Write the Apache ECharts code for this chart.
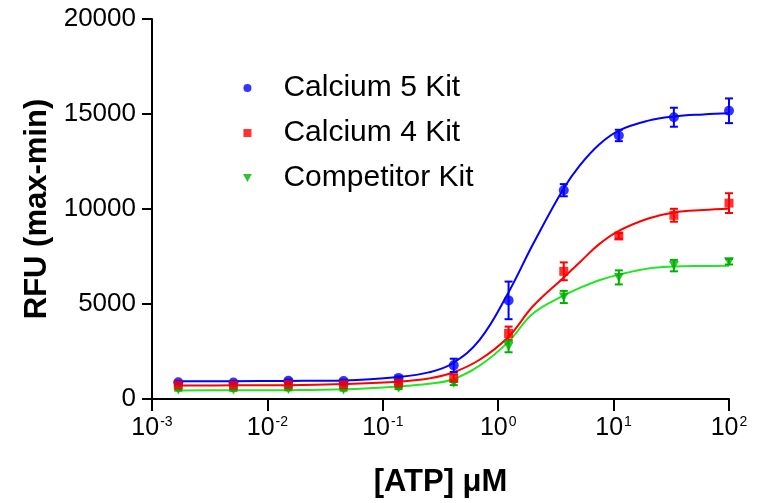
<!DOCTYPE html>
<html>
<head>
<meta charset="utf-8">
<script src="https://cdn.jsdelivr.net/npm/echarts@6/dist/echarts.min.js"></script>
<style>
html,body{margin:0;padding:0;background:#fff;}
#chart{width:764px;height:503px;}
</style>
</head>
<body>
<div id="chart"></div>
<script>
// ---- data ----
const seriesNames = ['Calcium 5 Kit', 'Calcium 4 Kit', 'Competitor Kit'];
const conc = [0.00169, 0.00508, 0.0152, 0.0457, 0.137, 0.412, 1.23, 3.70, 11.1, 33.3, 100];
const cal5 = [880, 870, 960, 950, 1110, 1770, 5190, 10990, 13870, 14830, 15170];
const cal5Err = [60, 60, 70, 60, 80, 350, 990, 320, 300, 500, 650];
const cal4 = [740, 730, 770, 760, 840, 1100, 3450, 6720, 8580, 9670, 10310];
const cal4Err = [50, 50, 60, 50, 60, 200, 360, 470, 150, 340, 520];
const comp = [480, 470, 500, 480, 560, 830, 2760, 5370, 6400, 7020, 7230];
const compErr = [40, 40, 40, 40, 40, 100, 300, 320, 370, 300, 150];

// fitted curves, values
const curveX = [0.0017, 0.005, 0.015, 0.046, 0.137, 0.25, 0.4, 0.69, 1.23, 2.0, 3.7, 5.1, 7.5, 11.1, 20, 33.3, 60, 100];
const cal5Fit = [937, 940, 950, 980, 1160, 1400, 1870, 3110, 5620, 8140, 11090, 12300, 13400, 14130, 14650, 14870, 14980, 15040];
const cal4Fit = [713, 718, 730, 790, 910, 1080, 1380, 2066, 3280, 4880, 6400, 7200, 8150, 8850, 9500, 9820, 9950, 10015];
const compFit = [453, 456, 465, 510, 660, 800, 1024, 1755, 3020, 4495, 5450, 5850, 6250, 6545, 6870, 6970, 7000, 7015];

const xTickExps = ['-3', '-2', '-1', '0', '1', '2'];
const yTicks = [0, 5000, 10000, 15000, 20000];

// ---- styling ----
const FONT = 'Liberation Sans, Arial, Helvetica, sans-serif';
const BLUE = '#0000ff', RED = '#ff0000', GREEN_LINE = '#22e622', GREEN_PT = '#00b000';
const TRI_DOWN = 'path://M0,0L10,0L5,9Z';
const SQUARE = 'path://M0,0L10,0L10,10L0,10Z';

function pairs(xs, ys) { return xs.map((x, i) => [x, ys[i]]); }
function triples(xs, ys, es) { return xs.map((x, i) => [x, ys[i], es[i]]); }

function errSeries(name, data, color) {
  return {
    type: 'custom',
    name: name + ' err',
    z: 3,
    data: data,
    encode: { x: 0, y: 1 },
    renderItem: function (params, api) {
      const x = api.value(0), y = api.value(1), e = api.value(2);
      const top = api.coord([x, y + e]);
      const bot = api.coord([x, y - e]);
      const hw = 4;
      const style = { stroke: color, lineWidth: 2 };
      return {
        type: 'group',
        children: [
          { type: 'line', shape: { x1: top[0], y1: top[1], x2: bot[0], y2: bot[1] }, style: style },
          { type: 'line', shape: { x1: top[0] - hw, y1: top[1], x2: top[0] + hw, y2: top[1] }, style: style },
          { type: 'line', shape: { x1: bot[0] - hw, y1: bot[1], x2: bot[0] + hw, y2: bot[1] }, style: style }
        ]
      };
    }
  };
}

function fitSeries(name, data, color) {
  return {
    type: 'line',
    name: name + ' fit',
    data: data,
    smooth: 0.4,
    showSymbol: false,
    symbol: 'none',
    z: 2,
    lineStyle: { color: color, width: 2 },
    silent: true
  };
}

const chart = echarts.init(document.getElementById('chart'), null, { renderer: 'canvas' });
chart.setOption({
  animation: false,
  backgroundColor: '#ffffff',
  textStyle: { fontFamily: FONT },
  grid: { left: 152, right: 35, top: 19, bottom: 100, containLabel: false },
  legend: {
    orient: 'vertical',
    left: 238,
    top: 68,
    itemWidth: 62,
    itemHeight: 8,
    itemGap: 15,
    symbolKeepAspect: true,
    data: seriesNames,
    textStyle: { fontSize: 30, color: '#000', fontFamily: FONT, lineHeight: 30 }
  },
  xAxis: {
    type: 'log',
    logBase: 10,
    min: 0.001,
    max: 100,
    name: '[ATP] \u03bcM',
    nameLocation: 'middle',
    nameGap: 68,
    nameTextStyle: { fontSize: 31, fontWeight: 'bold', color: '#000', fontFamily: FONT },
    axisLine: { show: true, onZero: false, lineStyle: { color: '#000', width: 2 } },
    axisTick: { show: true, inside: false, length: 12, lineStyle: { color: '#000', width: 2 } },
    minorTick: { show: false },
    splitLine: { show: false },
    axisLabel: {
      margin: 16,
      color: '#000',
      formatter: function (value, index) {
        return '{b|10}{s|' + xTickExps[index] + '}';
      },
      rich: {
        b: { fontSize: 25, color: '#000', fontFamily: FONT },
        s: { fontSize: 14, color: '#000', fontFamily: FONT, padding: [0, 0, 12, 1] }
      }
    }
  },
  yAxis: {
    type: 'value',
    min: yTicks[0],
    max: yTicks[yTicks.length - 1],
    interval: 5000,
    name: 'RFU (max-min)',
    nameLocation: 'middle',
    nameGap: 97,
    nameTextStyle: { fontSize: 31, fontWeight: 'bold', color: '#000', fontFamily: FONT },
    axisLine: { show: true, lineStyle: { color: '#000', width: 2 } },
    axisTick: { show: true, inside: false, length: 10, lineStyle: { color: '#000', width: 2 } },
    splitLine: { show: false },
    axisLabel: {
      margin: 16, fontSize: 26, color: '#000', fontFamily: FONT,
      formatter: function (v) { return String(v); }
    }
  },
  series: [
    fitSeries(seriesNames[0], pairs(curveX, cal5Fit), BLUE),
    fitSeries(seriesNames[1], pairs(curveX, cal4Fit), RED),
    fitSeries(seriesNames[2], pairs(curveX, compFit), GREEN_LINE),
    errSeries(seriesNames[0], triples(conc, cal5, cal5Err), BLUE),
    errSeries(seriesNames[1], triples(conc, cal4, cal4Err), RED),
    errSeries(seriesNames[2], triples(conc, comp, compErr), GREEN_PT),
    {
      type: 'scatter', name: seriesNames[0], data: pairs(conc, cal5),
      symbol: 'circle', symbolSize: 10, z: 4,
      itemStyle: { color: BLUE }
    },
    {
      type: 'scatter', name: seriesNames[1], data: pairs(conc, cal4),
      symbol: SQUARE, symbolSize: 9, symbolKeepAspect: true, z: 5,
      itemStyle: { color: RED }
    },
    {
      type: 'scatter', name: seriesNames[2], data: pairs(conc, comp),
      symbol: TRI_DOWN, symbolSize: [10, 9], z: 4,
      itemStyle: { color: GREEN_PT }
    }
  ]
});
</script>
</body>
</html>
